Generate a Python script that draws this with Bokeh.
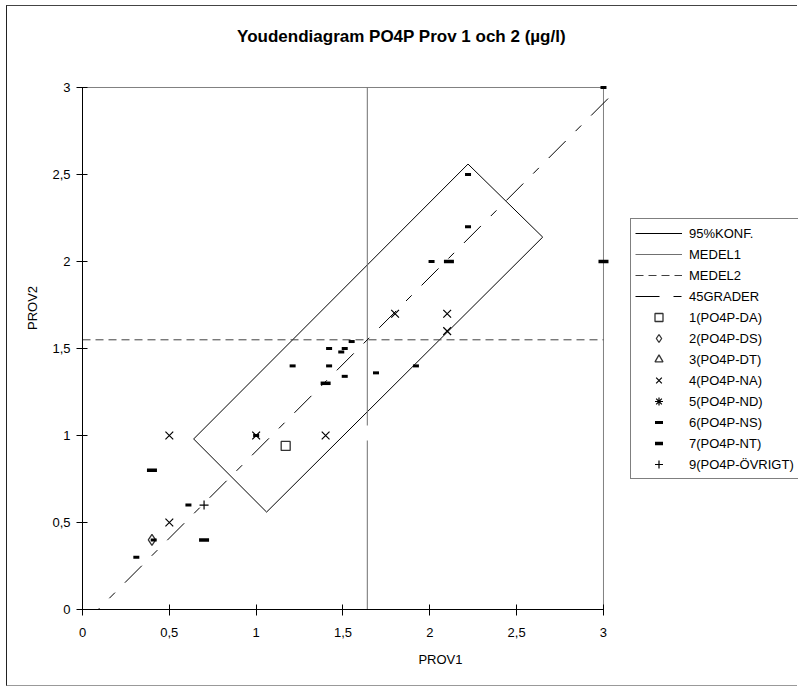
from bokeh.plotting import figure
from bokeh.models import (Range1d, FixedTicker, CustomJSTickFormatter, Legend,
                          LegendItem, Label)
from bokeh.embed import file_html
from bokeh.resources import INLINE

# ---------------- data ----------------
title_text = "Youdendiagram PO4P Prov 1 och 2 (µg/l)"
x_label = "PROV1"
y_label = "PROV2"
tick_values = [0, 0.5, 1, 1.5, 2, 2.5, 3]
axis_min = 0
axis_max = 3

# 95% confidence region (drawn as a rotated rectangle)
konf_x = [0.64, 2.22, 2.65, 1.06, 0.64]
konf_y = [0.98, 2.56, 2.14, 0.56, 0.98]

medel1 = 1.64
medel2 = 1.55

grader_x = [0.0, 3.05]
grader_y = [-0.09, 2.96]

nan = float("nan")
da_x = [1.17]
da_y = [0.94]
ds_x = [0.40]
ds_y = [0.40]
dt_x = [nan]          # no values in this group
dt_y = [nan]
na_x = [0.5, 0.5, 1.0, 1.4, 1.8, 2.1, 2.1]
na_y = [0.5, 1.0, 1.0, 1.0, 1.7, 1.7, 1.6]
nd_x = [nan]          # no values in this group
nd_y = [nan]
ns_x = [0.31, 0.41, 0.61, 1.0, 1.21, 1.42, 1.42, 1.51, 1.49, 1.55, 1.51, 1.69, 1.92, 2.01, 2.22, 2.22, 3.0]
ns_y = [0.30, 0.40, 0.60, 1.0, 1.40, 1.40, 1.50, 1.50, 1.48, 1.54, 1.34, 1.36, 1.40, 2.00, 2.20, 2.50, 3.0]
nt_x = [0.40, 0.70, 1.40, 2.11, 3.0]
nt_y = [0.80, 0.40, 1.30, 2.00, 2.0]
ov_x = [0.70]
ov_y = [0.60]

legend_labels = ["95%KONF.", "MEDEL1", "MEDEL2", "45GRADER", "1(PO4P-DA)", "2(PO4P-DS)",
                 "3(PO4P-DT)", "4(PO4P-NA)", "5(PO4P-ND)", "6(PO4P-NS)", "7(PO4P-NT)",
                 "9(PO4P-ÖVRIGT)"]

FONT = "Liberation Sans"

# The frame reaches the right and top edges of the canvas so that the legend and the
# title (which sit outside the plotting area in the original) are not clipped; the axes
# themselves are bounded to 0..3.
p = figure(width=791, height=681, x_range=Range1d(0, 4.123),
           y_range=Range1d(0, 3.4655), output_backend="svg",
           toolbar_location=None, min_border_left=75, min_border_right=0,
           min_border_top=0, min_border_bottom=78)
p.styles = {"margin-left": "6px", "margin-top": "5px",
            "border-left": "1px solid #222222", "border-top": "1px solid #444444",
            "border-bottom": "1px solid #999999"}
p.background_fill_color = "white"
p.border_fill_color = "white"
p.outline_line_color = None
p.xgrid.visible = False
p.ygrid.visible = False

# plot-area border (top and right), grey
p.segment(x0=[axis_min, axis_max], y0=[axis_max, axis_min],
          x1=[axis_max, axis_max], y1=[axis_max, axis_max],
          line_color="#808080", line_width=1)

r_konf = p.line(konf_x, konf_y, line_color="black", line_width=1)
r_m1 = p.line([medel1, medel1], [axis_min, axis_max], line_color="#707070", line_width=1,
              line_dash="169 15 600")
r_m2 = p.line([axis_min, axis_max], [medel2, medel2], line_color="#404040", line_width=1,
              line_dash="8 5")
r_45 = p.line(grader_x, grader_y, line_color="black", line_width=1, line_dash="24 14 8 14")

r_da = p.scatter(da_x, da_y, marker="square", size=9, fill_color=None,
                 line_color="#333333", line_width=1.3)
r_ds = p.scatter(ds_x, ds_y, marker="diamond", size=11, fill_color=None,
                 line_color="#333333", line_width=1.3)
r_dt = p.scatter(dt_x, dt_y, marker="triangle", size=9, fill_color=None,
                 line_color="#333333", line_width=1.3)
r_na = p.scatter(na_x, na_y, marker="x", size=11, line_color="black", line_width=1.2)
r_nd = p.scatter(nd_x, nd_y, marker="asterisk", size=10, line_color="black", line_width=1.2)
r_ns = p.scatter(ns_x, ns_y, marker="dash", size=6, line_color="black", line_width=3)
r_nt = p.scatter(nt_x, nt_y, marker="dash", size=10, line_color="black", line_width=3.5)
r_ov = p.scatter(ov_x, ov_y, marker="cross", size=9, line_color="black", line_width=1.2)

renderers = [r_konf, r_m1, r_m2, r_45, r_da, r_ds, r_dt, r_na, r_nd, r_ns, r_nt, r_ov]
items = [LegendItem(label=lab, renderers=[r]) for lab, r in zip(legend_labels, renderers)]
legend = Legend(items=items, location=(548, 130), label_text_font=FONT,
                label_text_font_size="13px", label_text_color="black",
                glyph_width=47, glyph_height=20, label_height=20, spacing=1,
                padding=4, margin=0, label_standoff=7, label_width=120,
                border_line_color="black", border_line_width=1,
                background_fill_color="white", background_fill_alpha=1)
p.add_layout(legend)

for ax in (p.xaxis[0], p.yaxis[0]):
    ax.bounds = (axis_min, axis_max)
    ax.ticker = FixedTicker(ticks=tick_values)
    ax.formatter = CustomJSTickFormatter(code="return tick.toString().replace('.', ',')")
    ax.major_tick_in = 5
    ax.major_tick_out = 6
    ax.minor_tick_line_color = None
    ax.axis_line_color = "black"
    ax.major_tick_line_color = "black"
    ax.major_label_text_font = FONT
    ax.major_label_text_font_size = "13px"
    ax.major_label_text_color = "black"
    ax.axis_label_text_font = FONT
    ax.axis_label_text_font_size = "13px"
    ax.axis_label_text_font_style = "normal"
    ax.axis_label_text_color = "black"

p.xaxis[0].axis_label = x_label
p.yaxis[0].axis_label = y_label
p.xaxis[0].major_label_standoff = 12
p.xaxis[0].axis_label_standoff = 12
p.yaxis[0].major_label_standoff = 6
p.yaxis[0].axis_label_standoff = 9

title = Label(x=319, y=573, x_units="screen", y_units="screen", text=title_text,
              text_align="center", text_baseline="middle", text_font=FONT,
              text_font_size="17px", text_font_style="bold", text_color="black")
p.add_layout(title)

open("out.html", "w").write(file_html(p, INLINE))
